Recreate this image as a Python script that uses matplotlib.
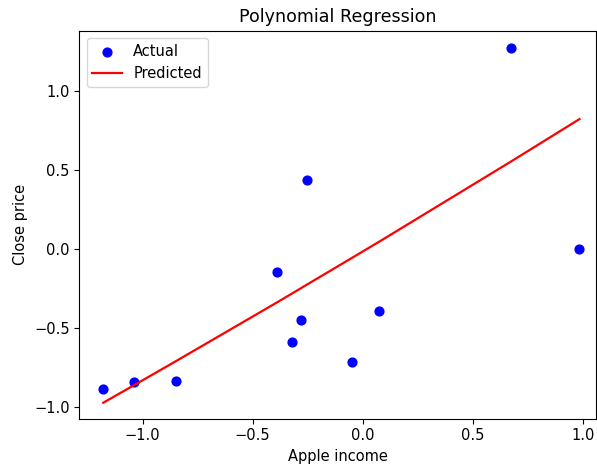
import matplotlib
matplotlib.use('Agg')
from matplotlib import pyplot as plt

# values
income = [-1.179, -1.038, -0.850, -0.389, -0.279, -0.321, -0.049, 0.073, -0.255, 0.673, 0.985]
close = [-0.880, -0.839, -0.833, -0.145, -0.445, -0.586, -0.712, -0.392, 0.436, 1.273, 0.004]

income_sorted = [-1.179, -1.038, -0.850, -0.389, -0.321, -0.279, -0.255, -0.049, 0.073, 0.673, 0.985]
predicted = [-0.970, -0.858, -0.708, -0.335, -0.279, -0.244, -0.224, -0.054, 0.047, 0.555, 0.824]

plt.rcParams['font.size'] = 10.5

W, H = 597, 467
fig = plt.figure(figsize=(W / 100, H / 100), dpi=100)
ax = fig.add_axes([79.3 / W, (H - 418.7) / H, (596 - 79.3) / W, (418.7 - 30.7) / H])

ax.scatter(income, close, color='blue', s=40, label='Actual')
ax.plot(income_sorted, predicted, color='red', lw=1.6, label='Predicted')

ax.set_xlim(-1.288, 1.060)
ax.set_ylim(-1.071, 1.383)
ax.set_xticks([-1.0, -0.5, 0.0, 0.5, 1.0])
ax.set_yticks([-1.0, -0.5, 0.0, 0.5, 1.0])

ax.set_title('Polynomial Regression')
ax.set_xlabel('Apple income')
ax.set_ylabel('Close price')
ax.legend(loc='upper left')

fig.savefig('out.png', dpi=100)
